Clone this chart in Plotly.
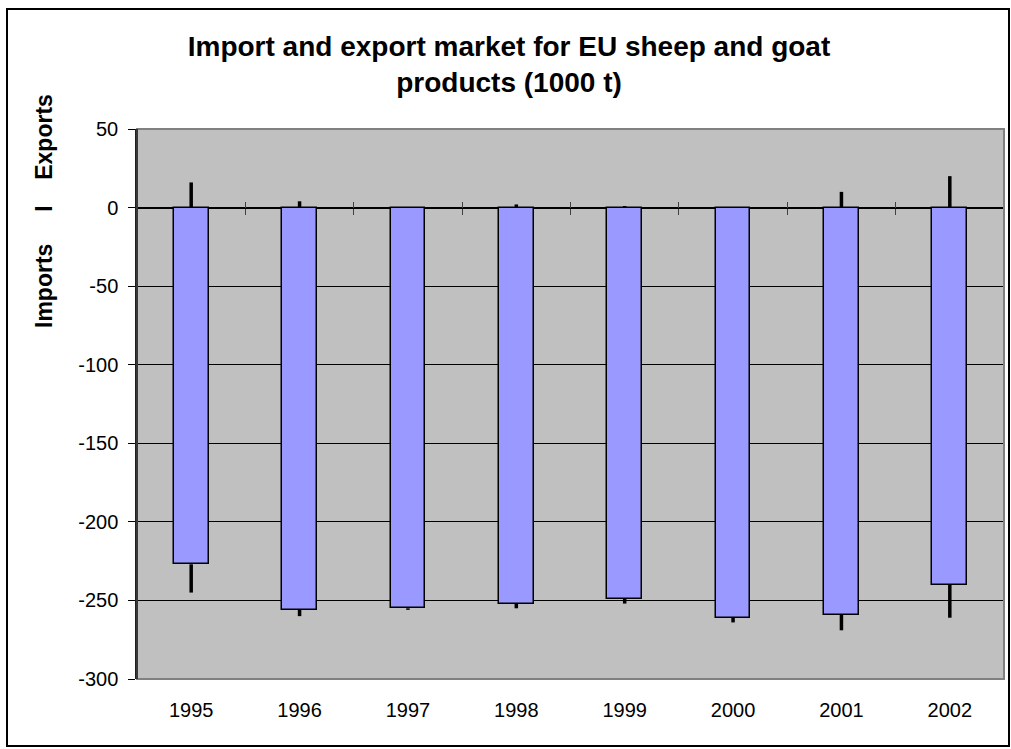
import plotly.graph_objects as go

# ---- data ----
years = ["1995", "1996", "1997", "1998", "1999", "2000", "2001", "2002"]
close_vals = [-227, -256, -255, -252, -249, -261, -259, -240]   # bar bottom (imports side)
low_vals = [-245, -260, -256, -255, -252, -264, -269, -261]     # lower wick end
high_vals = [16, 4, 0, 2, 1, 0, 10, 20]                         # upper wick end (exports)
open_vals = [0, 0, 0, 0, 0, 0, 0, 0]                            # bar top
y_ticks = [50, 0, -50, -100, -150, -200, -250, -300]

W, H = 1011, 749
L, R, T, B = 137, 7, 129, 70
ymin, ymax = -300, 50

idx = list(range(len(years)))

fig = go.Figure()

# wicks (lower: low -> close, upper: open -> high)
wx, wy = [], []
for i, lo, cl, op, hi in zip(idx, low_vals, close_vals, open_vals, high_vals):
    if lo < cl:
        wx += [i, i, None]
        wy += [lo, cl, None]
    if hi > op:
        wx += [i, i, None]
        wy += [op, hi, None]

fig.add_trace(go.Bar(
    x=idx, y=[c - o for c, o in zip(close_vals, open_vals)], base=open_vals,
    width=0.32,
    marker=dict(color="#9999FF", line=dict(color="#000000", width=1.5)),
    hoverinfo="skip", showlegend=False,
))
fig.add_trace(go.Scatter(
    x=wx, y=wy, mode="lines",
    line=dict(color="#000000", width=3.5),
    hoverinfo="skip", showlegend=False,
))

font_family = "Liberation Sans, Arial, sans-serif"
xr = [-0.5, len(years) - 0.5]
boundaries = [i + 0.5 for i in idx[:-1]]
zero_pos = (0 - ymin) / (ymax - ymin)

fig.update_layout(
    width=W, height=H,
    margin=dict(l=L, r=R, t=T, b=B),
    paper_bgcolor="#FFFFFF",
    plot_bgcolor="#C0C0C0",
    font=dict(family=font_family, size=20, color="#000000"),
    title=dict(
        text="<b>Import and export market for EU sheep and goat<br>products (1000 t)</b>",
        x=509 / W, xanchor="center", xref="container",
        y=1 - 56 / H, yanchor="middle", yref="container",
        font=dict(size=28, family=font_family, color="#000000"),
    ),
    bargap=0,
    xaxis=dict(
        range=xr, tickmode="array", tickvals=idx, ticktext=years,
        showgrid=False, zeroline=False, showline=False,
        ticks="outside", ticklen=13, tickcolor="rgba(0,0,0,0)",
        tickfont=dict(size=20),
    ),
    xaxis2=dict(
        overlaying="x", anchor="free", position=zero_pos,
        range=xr, tickmode="array", tickvals=boundaries,
        showticklabels=False, showgrid=False, zeroline=False, showline=False,
        ticks="outside", ticklen=6, tickwidth=1, tickcolor="#404040",
    ),
    xaxis3=dict(
        overlaying="x", anchor="free", position=zero_pos,
        range=xr, tickmode="array", tickvals=boundaries,
        showticklabels=False, showgrid=False, zeroline=False, showline=False,
        ticks="inside", ticklen=6, tickwidth=1, tickcolor="#404040",
    ),
    yaxis=dict(
        range=[ymin, ymax], tickmode="array", tickvals=y_ticks,
        ticktext=[str(v) for v in y_ticks],
        showgrid=True, gridcolor="#000000", gridwidth=1,
        zeroline=True, zerolinecolor="#000000", zerolinewidth=1.5,
        showline=True, linecolor="#202020", linewidth=1.5,
        ticks="outside", ticklen=7, tickcolor="#000000",
        ticklabelstandoff=6,
        tickfont=dict(size=20),
    ),
)

# dummy traces to activate the overlay axes
fig.add_trace(go.Scatter(x=[None], y=[None], xaxis="x2", showlegend=False, hoverinfo="skip"))
fig.add_trace(go.Scatter(x=[None], y=[None], xaxis="x3", showlegend=False, hoverinfo="skip"))

# plot area border (gray) with darker value-axis line
fig.add_shape(type="rect", xref="paper", yref="paper", x0=0, y0=0, x1=1, y1=1,
              line=dict(color="#808080", width=2), layer="above")
fig.add_shape(type="line", xref="paper", yref="paper", x0=0, y0=0, x1=0, y1=1,
              line=dict(color="#202020", width=1.5), layer="above")

# helpers: figure pixel -> paper coordinates
pw, ph = W - L - R, H - T - B
def px_x(p):
    return (p - L) / pw
def px_y(p):
    return (H - B - p) / ph

# outer chart border
fig.add_shape(type="rect", xref="paper", yref="paper",
              x0=px_x(7), x1=px_x(1009), y0=px_y(746), y1=px_y(9),
              line=dict(color="#000000", width=2), layer="above")

# y-axis title
fig.add_annotation(
    text="<b>Imports" + "\u00a0" * 5 + "I" + "\u00a0" * 4 + "Exports</b>",
    textangle=-90, xref="paper", yref="paper",
    x=px_x(44), y=px_y(211), xanchor="center", yanchor="middle",
    showarrow=False, font=dict(size=23, family=font_family, color="#000000"),
)

fig.write_html(
    "out.html",
    config={"displayModeBar": False},
    post_script="document.body.style.margin='0';"
                "document.documentElement.style.overflow='hidden';",
)
